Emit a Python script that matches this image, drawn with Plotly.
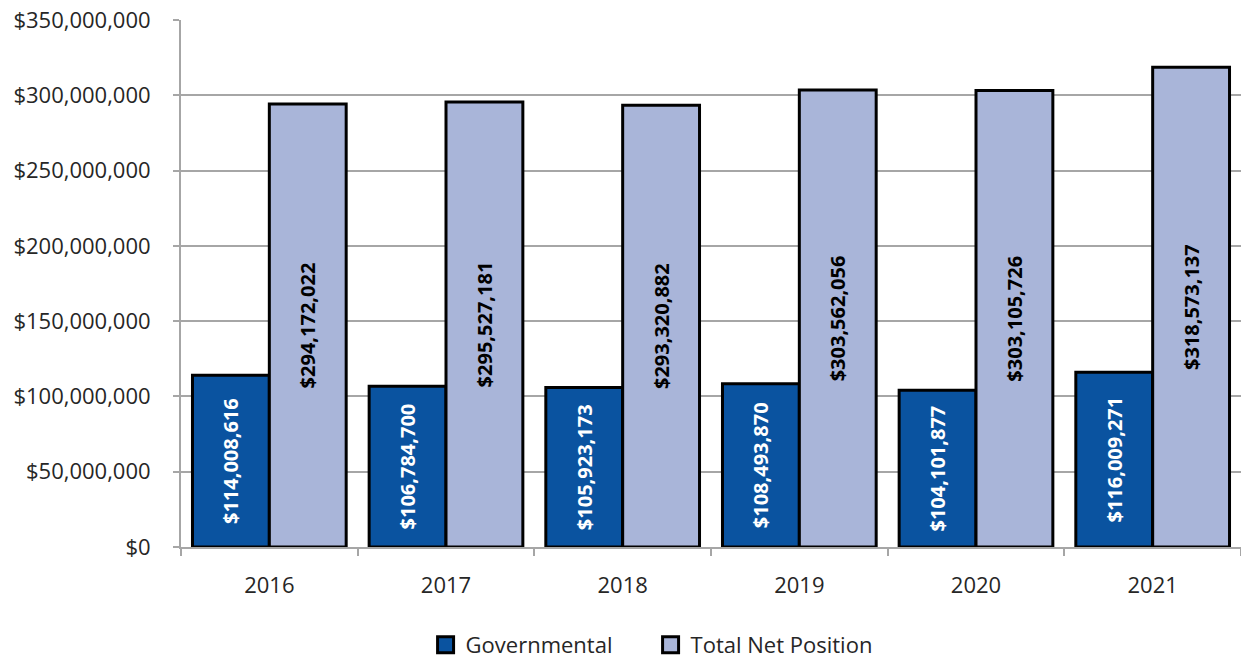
import plotly.graph_objects as go

years = ["2016", "2017", "2018", "2019", "2020", "2021"]
governmental = [114008616, 106784700, 105923173, 108493870, 104101877, 116009271]
total_net_position = [294172022, 295527181, 293320882, 303562056, 303105726, 318573137]

series_names = ["Governmental", "Total Net Position"]
series_colors = ["#0A53A0", "#A9B5D9"]
label_colors = ["white", "black"]


def money(v):
    return "${:,.0f}".format(v)


fig = go.Figure()
for name, values, color, tcolor in zip(series_names, [governmental, total_net_position],
                                       series_colors, label_colors):
    fig.add_trace(go.Bar(
        name=name,
        x=years, y=values,
        marker=dict(color=color, line=dict(color="#000000", width=3)),
        text=[money(v) for v in values],
        texttemplate="<b>%{text}</b>",
        textposition="inside", insidetextanchor="middle", textangle=-90,
        textfont=dict(family="Open Sans", size=20, color=tcolor),
        constraintext="none",
        showlegend=False,
    ))

# legend swatches: larger squares with black outline
for name, color in zip(series_names, series_colors):
    fig.add_trace(go.Scatter(
        name=name, x=[None], y=[None], mode="markers",
        marker=dict(symbol="square", size=16, color=color,
                    line=dict(color="#000000", width=3)),
        showlegend=True,
    ))

fig.update_layout(
    width=1241, height=666,
    margin=dict(l=181, r=0, t=20, b=119),
    barmode="group", bargap=0.13, bargroupgap=0,
    plot_bgcolor="white", paper_bgcolor="white",
    font=dict(family="Open Sans", size=22, color="#262626"),
    legend=dict(orientation="h", x=0.443, xanchor="center", y=-0.2258, yanchor="bottom",
                font=dict(size=22, color="#262626"), traceorder="normal",
                itemsizing="trace", entrywidth=180, entrywidthmode="pixels"),
    uniformtext=dict(mode=False),
)
fig.update_yaxes(
    range=[0, 350000000], dtick=50000000,
    tickprefix="$", tickformat=",.0f",
    showgrid=True, gridcolor="#A6A6A6", gridwidth=2,
    showline=True, linecolor="#A6A6A6", linewidth=2,
    ticks="outside", ticklen=6, tickcolor="#A6A6A6", tickwidth=2,
    ticklabelstandoff=18,
    zeroline=False,
)
fig.update_xaxes(
    type="category",
    showline=True, linecolor="#A6A6A6", linewidth=2,
    ticks="outside", tickson="boundaries", ticklen=7, tickcolor="#A6A6A6", tickwidth=2,
    ticklabelstandoff=18,
    showgrid=False,
)

fig.write_html("out.html")
